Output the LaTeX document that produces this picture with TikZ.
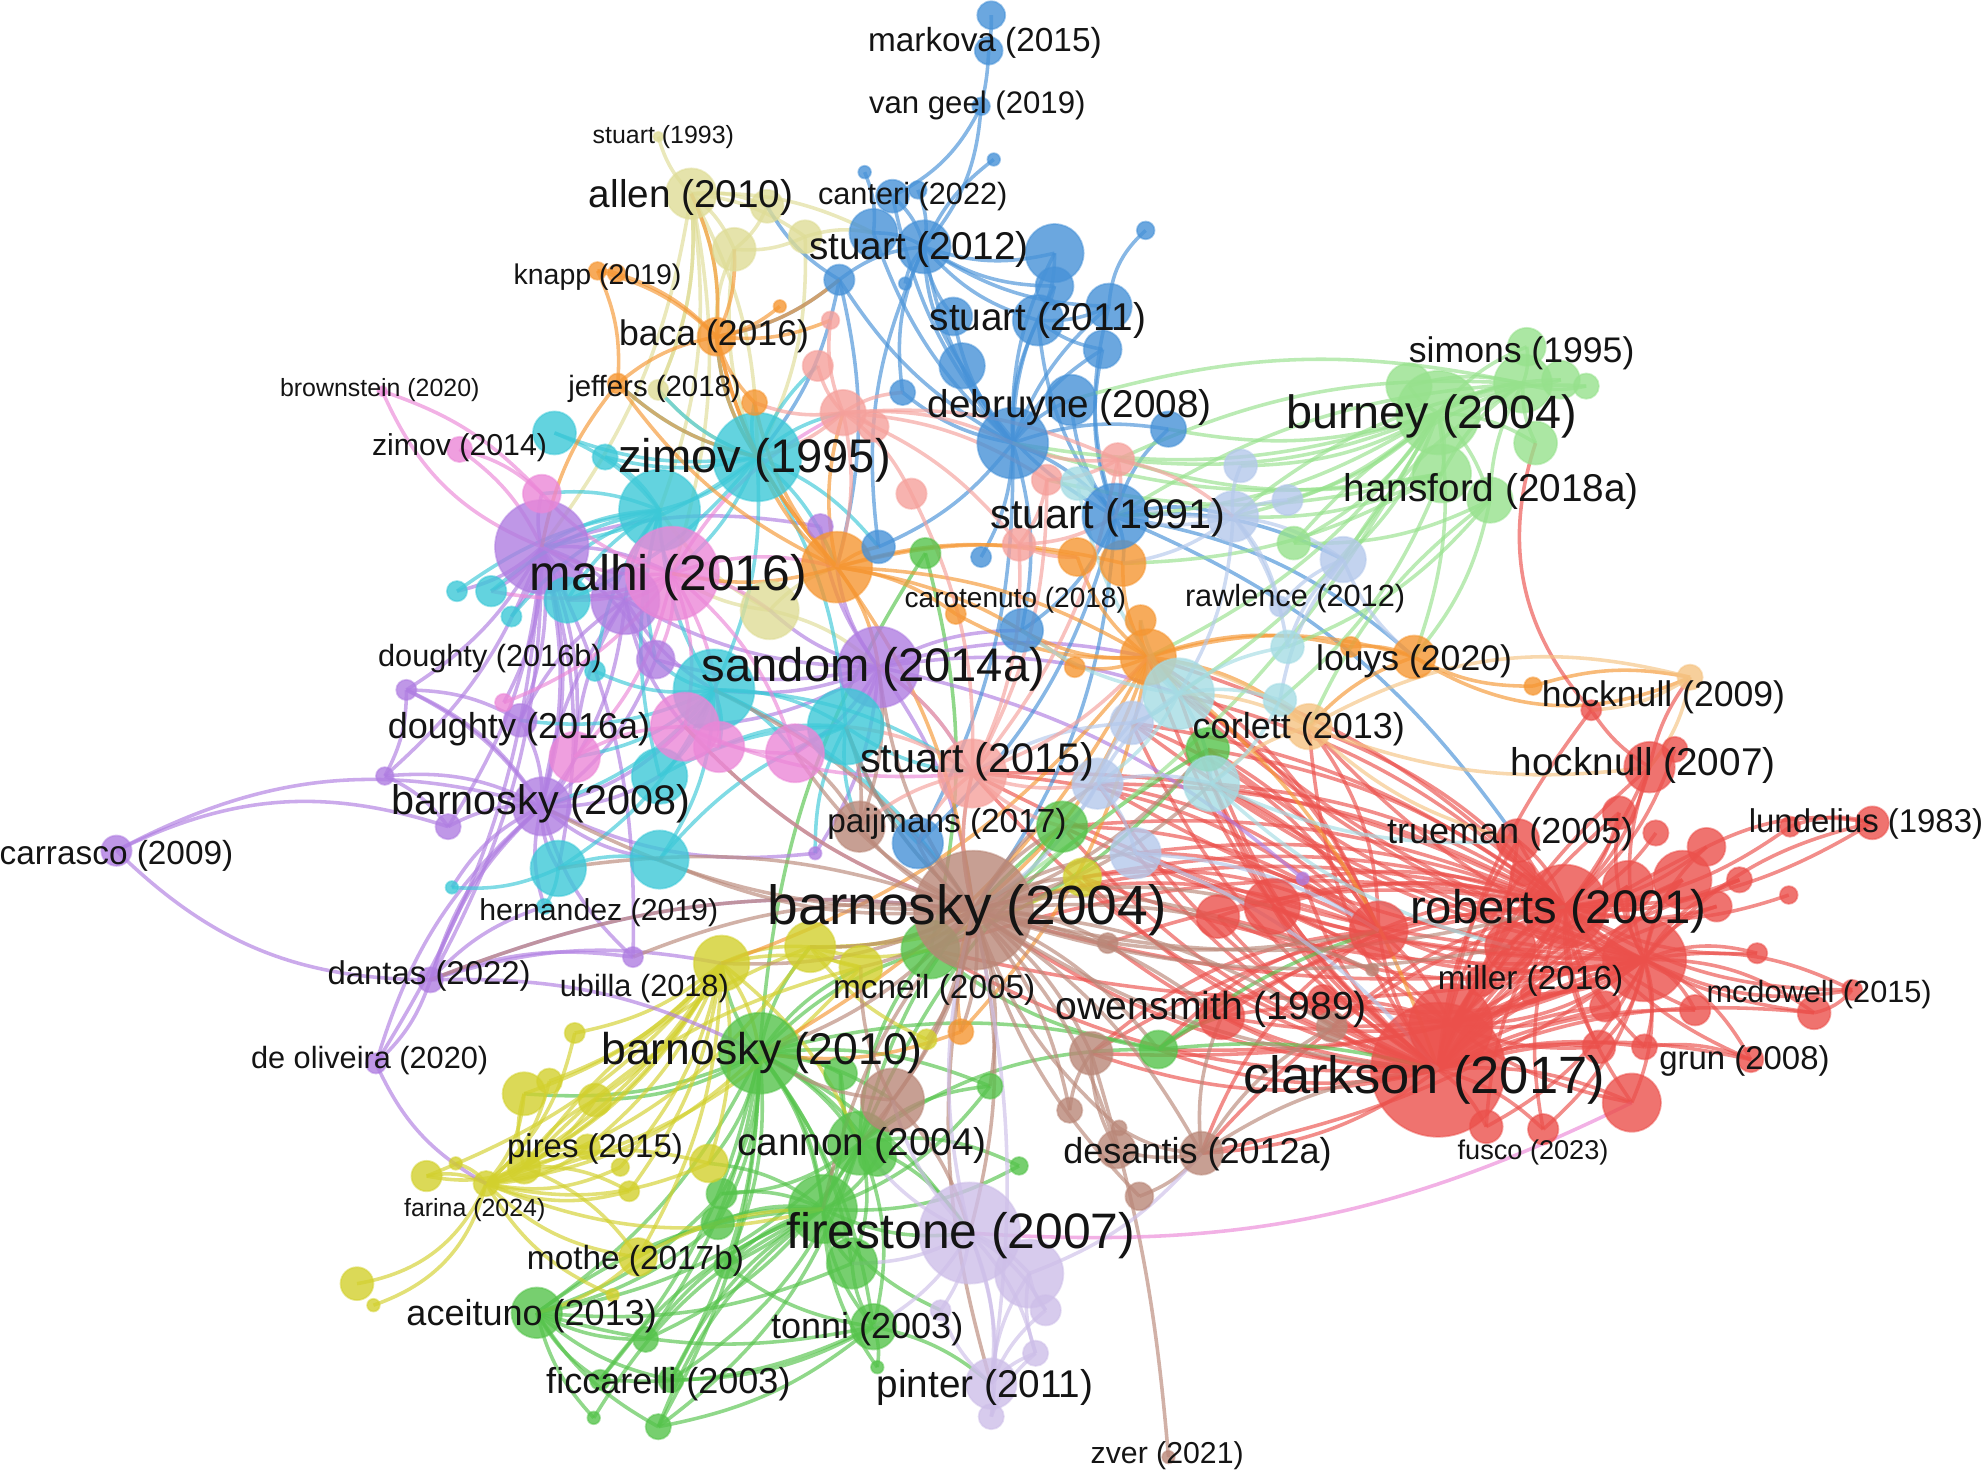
\documentclass[tikz,border=0pt]{standalone}
\usepackage{fontspec}
\setmainfont{Liberation Sans}
\pgfdeclarelayer{edges}
\pgfsetlayers{edges,main}
\definecolor{cR}{RGB}{235,80,75}
\definecolor{cG}{RGB}{85,195,75}
\definecolor{cB}{RGB}{70,145,215}
\definecolor{cY}{RGB}{210,208,45}
\definecolor{cK}{RGB}{222,220,150}
\definecolor{cP}{RGB}{175,125,225}
\definecolor{cC}{RGB}{60,200,215}
\definecolor{cPk}{RGB}{235,135,215}
\definecolor{cO}{RGB}{245,150,50}
\definecolor{cBr}{RGB}{185,135,120}
\definecolor{cLG}{RGB}{150,225,140}
\definecolor{cLB}{RGB}{180,200,235}
\definecolor{cS}{RGB}{245,160,155}
\definecolor{cL}{RGB}{205,190,232}
\definecolor{cLO}{RGB}{245,195,130}
\definecolor{cLC}{RGB}{165,220,228}
\definecolor{txt}{RGB}{20,20,20}
\tikzset{
  vn/.style={circle, inner sep=0pt, fill opacity=0.8, draw opacity=0.5, line width=0.4pt},
  lbl/.style={inner sep=0pt, text=txt, anchor=center},
  edg/.style={line width=0.8pt, draw opacity=0.65}
}
\newcommand\fan[4]{\foreach \tg in {#4}{\draw[edg, draw=#1] (#2.center) to[bend left=#3] (\tg.center);}}
\begin{document}
\begin{tikzpicture}[x=0.1mm, y=-0.1mm]
\useasboundingbox (0,0) rectangle (1568,1163);
% ---------- circles ----------
\foreach \n/\x/\y/\r/\c in {
R1/1136/845/53/cR, R2/1146/810/33/cR, R3/1236/716/33/cR, R4/1286/700/20/cR, R5/1329/695/23/cR,
R6/1299/758/33/cR, R7/1193/748/20/cR, R8/1089/735/23/cR, R9/1303/606/20/cR, R10/1323/592/10/cR,
R11/1279/642/13/cR, R12/1308/658/10/cR, R13/1348/669/15/cR, R14/1479/650/13/cR, R15/1414/653/8/cR,
R16/1374/695/10/cR, R17/1413/707/7/cR, R18/1356/716/12/cR, R19/1388/753/8/cR, R20/1199/664/17/cR,
R21/1203/690/10/cR, R22/1209/785/8/cR, R23/1268/795/12/cR, R24/1463/782/8/cR, R25/1433/800/13/cR,
R26/1339/798/12/cR, R27/1383/837/10/cR, R28/1299/827/10/cR, R29/1263/827/13/cR, R30/1289/871/23/cR,
R31/1219/892/12/cR, R32/1174/890/13/cR, R33/962/724/17/cR, R34/1005/716/22/cR, R35/965/803/18/cR,
R36/1257/561/8/cR, R37/1045/790/12/cR, R38/1170/775/12/cR,
G1/600/832/32/cG, G2/664/848/13/cG, G3/735/750/23/cG, G4/839/653/20/cG, G5/915/829/15/cG,
G6/782/858/10/cG, G7/805/921/7/cG, G8/679/903/25/cG, G9/650/955/27/cG, G10/673/998/20/cG,
G11/693/914/15/cG, G12/690/1048/18/cG, G13/693/1080/5/cG, G14/424/1037/20/cG, G15/510/1058/10/cG,
G16/474/1090/8/cG, G17/530/1090/10/cG, G18/520/1127/10/cG, G19/469/1120/5/cG, G20/570/943/12/cG,
G21/567/966/13/cG, G22/574/1000/10/cG, G25/954/592/17/cG, G27/731/437/12/cG,
Y1/570/761/22/cY, Y2/640/748/20/cY, Y3/680/764/17/cY, Y5/454/816/8/cY, Y6/414/864/17/cY,
Y7/434/854/10/cY, Y8/470/869/13/cY, Y9/414/922/13/cY, Y10/464/906/10/cY, Y11/490/922/7/cY,
Y12/560/919/15/cY, Y13/337/929/12/cY, Y14/360/919/5/cY, Y15/384/935/10/cY, Y16/497/941/8/cY,
Y17/282/1014/13/cY, Y18/295/1031/5/cY, Y19/504/993/15/cY, Y20/484/1023/5/cY, Y21/855/693/15/cY,
Y22/732/821/8/cY, Y23/608/482/23/cK,
K1/546/153/20/cK, K2/606/163/13/cK, K3/580/197/17/cK, K4/636/187/13/cK, K5/520/108/4/cK, K6/520/308/8/cK,
P1/428/432/37/cP, P2/494/474/27/cP, P3/694/527/32/cP, P4/518/521/15/cP, P5/411/569/13/cP,
P6/321/545/8/cP, P7/304/613/7/cP, P8/428/637/23/cP, P9/354/653/10/cP, P10/92/672/12/cP,
P11/340/774/10/cP, P12/297/840/8/cP, P13/500/756/8/cP, P14/644/674/5/cP, P15/648/416/10/cP, P16/1029/694/5/cP,
C1/598/361/35/cC, C2/438/342/17/cC, C3/478/361/10/cC, C4/521/403/32/cC, C5/448/474/18/cC,
C6/361/467/8/cC, C7/388/467/12/cC, C8/404/487/8/cC, C9/564/545/32/cC, C10/668/574/30/cC,
C11/521/613/22/cC, C12/441/686/22/cC, C13/521/679/23/cC, C14/430/716/6/cC, C15/357/701/5/cC, C16/470/530/8/cC,
Pk1/531/453/37/cPk, Pk2/428/390/15/cPk, Pk3/541/574/27/cPk, Pk4/568/590/20/cPk, Pk5/628/595/23/cPk,
Pk6/454/598/20/cPk, Pk7/363/355/10/cPk, Pk8/302/309/4/cPk, Pk9/398/555/7/cPk,
O1/661/448/28/cO, O2/566/266/15/cO, O3/616/242/5/cO, O4/596/318/10/cO, O5/472/214/7/cO,
O6/487/216/7/cO, O7/488/303/8/cO, O8/851/440/15/cO, O9/887/445/18/cO, O10/901/490/12/cO,
O11/907/519/22/cO, O12/849/527/8/cO, O13/1117/519/17/cO, O14/1067/511/8/cO, O15/1211/542/7/cO,
O16/759/815/10/cO, O17/755/485/8/cO,
Br1/769/719/47/cBr, Br2/679/653/20/cBr, Br3/875/745/8/cBr, Br4/862/832/17/cBr, Br5/1052/811/12/cBr,
Br6/705/869/25/cBr, Br7/845/877/10/cBr, Br8/882/908/15/cBr, Br9/949/911/17/cBr, Br10/900/945/11/cBr,
Br11/884/891/6/cBr, Br12/923/1151/5/cBr, Br13/1084/766/5/cBr,
LG1/1136/326/33/cLG, LG2/1113/305/18/cLG, LG3/1206/274/15/cLG, LG4/1203/303/23/cLG, LG5/1233/300/15/cLG,
LG6/1253/305/10/cLG, LG7/1213/350/17/cLG, LG8/1139/374/23/cLG, LG9/1177/395/18/cLG, LG10/1022/429/13/cLG,
LB1/980/368/13/cLB, LB2/974/408/20/cLB, LB3/1017/395/12/cLB, LB4/1061/442/18/cLB, LB5/1011/479/8/cLB,
LB6/894/571/17/cLB, LB7/867/619/20/cLB, LB8/897/674/20/cLB,
S1/656/253/7/cS, S2/646/289/12/cS, S3/666/326/18/cS, S4/690/337/12/cS, S5/883/363/13/cS,
S6/827/379/12/cS, S7/768/611/27/cS, S9/720/390/12/cS, S10/805/430/13/cS,
L1/766/974/40/cL, L2/813/1006/27/cL, L3/826/1035/12/cL, L4/818/1069/10/cL, L5/783/1093/20/cL,
L6/783/1119/10/cL, L7/743/1035/8/cL,
LO1/1034/574/18/cLO, LO2/1335/535/10/cLO,
LC1/851/382/13/cLC, LC2/931/548/28/cLC, LC3/1017/511/13/cLC, LC4/1011/553/13/cLC, LC5/957/619/22/cLC,
B1/783/12/11/cB, B2/781/40/11/cB, B3/775/84/7/cB, B4/683/136/5/cB, B5/785/126/5/cB,
B6/705/155/13/cB, B7/725/150/7/cB, B8/690/184/19/cB, B9/730/195/21/cB, B10/663/221/12/cB,
B11/715/224/5/cB, B12/833/200/23/cB, B13/833/226/15/cB, B14/905/182/7/cB, B15/753/250/15/cB,
B16/820/253/20/cB, B17/876/242/18/cB, B18/871/276/15/cB, B19/760/289/18/cB, B20/713/310/10/cB,
B21/846/316/20/cB, B22/800/350/28/cB, B23/923/339/14/cB, B24/881/408/26/cB, B25/694/432/13/cB,
B26/807/498/17/cB, B27/725/666/20/cB, B28/775/440/8/cB}
  \node[vn, minimum size=0.2mm*\r, fill=\c, draw=\c] (\n) at (\x,\y) {};
% ---------- connectors ----------
\begin{pgfonlayer}{edges}
% red
\fan{cR}{R1}{14}{R2,R3,R4,R5,R6,R7,R8,R9,R11,R13,R16,R18,R20,R21,R22,R23,R25,R26,R27,R28,R29,R30,R31,R32,R33,R34,R35,R36,R37,R38}
\fan{cR}{R3}{-16}{R2,R4,R5,R6,R7,R8,R9,R10,R11,R12,R13,R14,R15,R16,R17,R18,R19,R20,R21,R22,R23,R24,R25,R26,R27,R28,R29,R30,R31,R32,R33,R34,R35,R38}
\fan{cR}{R6}{18}{R2,R4,R5,R7,R8,R9,R11,R13,R14,R16,R18,R19,R20,R22,R23,R24,R25,R26,R27,R28,R29,R30,R31,R32,R33,R34,R35,R37}
\fan{cR}{R2}{-12}{R4,R5,R7,R8,R20,R23,R29,R30,R33,R34,R35,R37,R38,R9}
\fan{cR}{R1}{16}{Br1,G4,LB8,Y21,LB7,LC5,G25,LC2,O11,S7,Br4,G5,Br9,LO1,LB6,Br5,G3,Br3,P16}
\fan{cR}{R3}{-14}{Br1,G4,LB8,Y21,LB7,LC5,G25,LC2,O11,S7,Br4,G5,Br9,LO1,LB6,Br5,G3,Br3,P16}
\fan{cR}{R6}{12}{Br1,G4,LB8,Y21,LB7,LC5,G25,LC2,O11,S7,Br4,G5,Br9,LO1,LB6,Br5,G3}
\fan{cR}{R8}{-18}{Br1,G4,LB8,Y21,LB7,LC5,G25,LC2,O11,S7,Br4,G5,Br9,LO1,LB6}
\fan{cR}{R9}{12}{R36,LO2}
\fan{cR}{R14}{-18}{R15,R13}
\fan{cR}{R24}{18}{R25,R6}
\fan{cR}{R27}{-14}{R28}
% green
\fan{cG}{G1}{14}{G2,G3,G6,G8,G9,G10,G11,G12,G14,G15,G16,G17,G18,G20,G21,G22,G27,Y1,Y2,Y3,Y6,Y8,Y12,Br6,L1,G5}
\fan{cG}{G9}{-16}{G1,G2,G6,G7,G10,G11,G12,G13,G14,G15,G16,G17,G18,G19,G20,G21,G22,L1,L7,Y12,Y19}
\fan{cG}{G8}{18}{G2,G3,G5,G6,G7,G10,G12,G14,G15,G17,G18,G20,G22,G25,G4,L1}
\fan{cG}{G14}{-14}{G15,G16,G17,G18,G19,G20,G21,G12,G10}
\fan{cG}{G12}{14}{G13,G16,G17,G18,G10,G22,L5}
\fan{cG}{G3}{-14}{G4,G5,G25,Br1,G27}
\fan{cG}{G5}{10}{R35,R1,R8}
% yellow
\fan{cY}{Y1}{14}{Y2,Y3,Y5,Y6,Y7,Y8,Y9,Y10,Y11,Y12,Y13,Y15,Y16,Y19,G1,G8}
\fan{cY}{Y15}{-18}{Y5,Y6,Y7,Y8,Y9,Y10,Y11,Y12,Y13,Y14,Y16,Y19,Y20,Y1,Y2,Y3,G1,G9}
\fan{cY}{Y9}{16}{Y6,Y8,Y10,Y12,Y13,Y16,Y19,Y2,Y3}
\fan{cY}{Y2}{-14}{Br1,Y21,Y22,Y3,G3}
\fan{cY}{Y15}{28}{Y17,Y18}
\fan{cY}{Y19}{14}{G14,G9}
\fan{cK}{Y23}{14}{Pk1,C4,O1,P3}
% khaki
\fan{cK}{K1}{14}{K2,K3,K4,K5,K6,C1,O2,B8,Pk1,P1,C4}
\fan{cK}{K3}{-14}{K4,K2,C1,O2}
\fan{cK}{K4}{14}{B8,C1}
\fan{cK}{K6}{-14}{C1,K1}
% purple
\fan{cP}{P1}{14}{P2,P4,P5,P6,P7,P8,P9,P11,P12,P13,P15,C5,C6,C7,C8,Pk1,Pk2,Pk6,C12,Pk9}
\fan{cP}{P8}{-16}{P1,P2,P4,P5,P6,P7,P9,P11,P12,P13,P14,C11,C12,C13,Pk6,Pk3,C14,C15}
\fan{cP}{P3}{14}{P2,P4,P14,P15,P16,Br1,S7,C9,C10,Pk5,Pk3,O1,Y23,B26,O11,LC2}
\fan{cP}{P2}{-14}{P4,P5,P8,C5,C9,Pk3,Pk6}
\fan{cP}{P10}{22}{P8,P9}
\fan{cP}{P10}{-22}{P11}
\fan{cP}{P11}{14}{P12,P13,Y1,C14,G1,P8,Br1}
\fan{cP}{P12}{-18}{Y15}
\fan{cP}{P6}{14}{P5,P7,P8}
\fan{cP}{P7}{14}{P9}
% cyan
\fan{cC}{C1}{14}{C2,C3,C4,C5,C9,C10,O1,O2,O7,S3,S2,Pk1,P1,K6,B25,O4}
\fan{cC}{C4}{-14}{C2,C3,C5,C6,C7,C8,C9,C11,Pk1,Pk2,P1,P2,P4,C16}
\fan{cC}{C9}{16}{C10,C11,C12,C13,Pk3,Pk4,Pk5,Pk6,P4,P5,P8,Br1,S7,C16}
\fan{cC}{C10}{-14}{C11,C13,Pk4,Pk5,S7,Br1,Br2,B27,P14}
\fan{cC}{C12}{14}{C13,C15,C14}
% pink
\fan{cPk}{Pk1}{16}{Pk2,Pk3,Pk4,Pk5,Pk6,Pk9,P1,P2,P4,C5,C7,O1,Y23,S3}
\fan{cPk}{Pk3}{-14}{Pk4,Pk5,Pk6,Br1,S7}
\fan{cPk}{Pk8}{-22}{P1}
\fan{cPk}{Pk8}{14}{Pk2}
\fan{cPk}{Pk7}{14}{P1,Pk2}
% blue
\fan{cB}{B1}{5}{B2}
\fan{cB}{B2}{5}{B3}
\fan{cB}{B3}{18}{B9,B6}
\fan{cB}{B5}{-14}{B9}
\fan{cB}{B4}{14}{B8}
\fan{cB}{B14}{-22}{B17}
\fan{cB}{B22}{14}{B8,B9,B10,B12,B13,B15,B16,B17,B18,B19,B20,B21,B23,B24,B25,B26,B27,B6,B28}
\fan{cB}{B9}{-16}{B6,B7,B8,B10,B11,B12,B13,B15,B16,B17,B19,B20,B25}
\fan{cB}{B24}{16}{B21,B23,B19,B17,B18,B16,B26,B27,LB2,O9,R20,Br1,LB4,O13}
\fan{cB}{B16}{-14}{B12,B13,B17,B18}
\fan{cB}{B10}{14}{O1,C1,O2,K2}
% orange
\fan{cO}{O1}{14}{O2,O4,O7,O8,O9,O11,O12,O17,C1,Pk1,P3,B25,S3,Br1}
\fan{cO}{O2}{-14}{O3,O4,O5,O6,O7,O1,K1,K3,C1,S1,B10}
\fan{cO}{O11}{16}{O8,O9,O10,O12,O13,O14,O16,O17,LC2,LO1,B26,Br1,G1,Y1,R1}
\fan{cO}{O13}{-14}{O14,LO1,O15}
\fan{cO}{O13}{-28}{LO2}
\fan{cO}{O15}{14}{LO2}
\fan{cO}{O5}{14}{O6,O7}
\fan{cO}{O7}{-14}{C1,P1}
\fan{cO}{O16}{14}{Br1,G1}
% brown
\fan{cBr}{Br1}{14}{Br2,Br3,Br4,Br5,Br6,Br7,Br8,Br9,Br13,G1,G3,G4,G5,G6,G8,Y1,Y2,Y3,Y21,Y22,P8,P3,C10,C13,S7,LB7,LB8,B27,R33,R34,R35,L1,O16,Pk5,Pk3}
\fan{cBr}{Br1}{-14}{R8,R1,R3,R7,C9,P11,P13,C12,G9,L5,Br10,Br11,G25,LC5}
\fan{cBr}{Br9}{14}{Br8,Br10,Br11,R1,R35,Br5}
\fan{cBr}{Br4}{-14}{Br7,Br8}
\fan{cBr}{Br12}{-6}{Br4}
\fan{cBr}{Br6}{14}{G1,G8,Y3,L1}
\fan{cBr}{Br2}{-14}{P3,C10,Pk5}
% light green
\fan{cLG}{LG1}{14}{LG2,LG3,LG4,LG5,LG6,LG7,LG8,LG9,LG10,B22,B24,LB2,LB1,LB4,O11,LC2,S5,B23,Br1,O13,LB3}
\fan{cLG}{LG4}{-14}{LG2,LG3,LG5,LG6,LG7,LG8,LG9,LG10,B24,S5,LB4,B21,LB2}
\fan{cLG}{LG9}{14}{O13,LG10,LC3}
\fan{cLG}{LG9}{-14}{LO1}
\fan{cR}{LG7}{-30}{R36}
\fan{cLG}{LG8}{14}{B22,S5,S6,LB2,O9,LC4}
% light blue
\fan{cLB}{LB2}{14}{LB1,LB3,LB4,LB5,B24,LC1,LC3,O9,LC2}
\fan{cLB}{LB4}{-14}{LB5,LC3,LC4,O13}
\fan{cLB}{LB7}{14}{LB6,LB8,LC5,LC2,Br1,G4}
\fan{cLB}{LB6}{-14}{LC2,O11,S7}
\fan{cLB}{LB8}{14}{R8,R1}
% salmon
\fan{cS}{S3}{14}{S1,S2,S4,S9,S10,S6,S5,C1,O1,B20,B22,O4}
\fan{cS}{S7}{-14}{S9,S10,S6,S5,C10,P3,Br1,B27,Br2,G4,LB7,O11}
\fan{cS}{S5}{14}{S6,B22,B24,LB2}
\fan{cS}{S10}{-14}{S6,O8,B24}
% lavender
\fan{cL}{L1}{14}{L2,L3,L4,L5,L6,L7,G10,G12,Br1,Br6,G8}
\fan{cPk}{L1}{-15}{R30}
\fan{cL}{L5}{14}{L2,L3,L4,L6,L7}
\fan{cL}{L5}{-10}{Br1}
\fan{cL}{L2}{-14}{L3,L4,Br9}
\fan{cL}{L6}{14}{L4}
% light orange
\fan{cLO}{LO1}{22}{LO2}
\fan{cLO}{LO1}{-14}{LC2,LC4,LC5,R9,R20,O11}
\fan{cLO}{LO2}{14}{R36,R9}
% light cyan
\fan{cLC}{LC2}{14}{LC1,LC3,LC4,LC5,LB6,LB7,O11,O10,B26}
\fan{cLC}{LC5}{-14}{LC4,R20,R7}
\end{pgfonlayer}
% ---------- labels ----------
\foreach \n/\x/\y/\s/\tx in {
T1/778/34/7.5/markova (2015), T2/772/83/7.0/van geel (2019), T3/524/108/5.6/stuart (1993),
T4/546/156/8.7/allen (2010), T5/721/155/6.9/canteri (2022), T6/726/197/8.7/stuart (2012),
T7/472/219/6.4/knapp (2019), T8/820/253/8.7/stuart (2011), T9/564/266/8.0/baca (2016),
T10/1202/279/8.0/simons (1995), T11/300/308/5.6/brownstein (2020), T12/517/307/6.6/jeffers (2018),
T13/845/322/8.7/debruyne (2008), T14/1131/329/10.5/burney (2004), T15/363/354/6.8/zimov (2014),
T16/596/364/10.6/zimov (1995), T17/1178/388/8.7/hansford (2018a), T18/875/409/9.3/stuart (1991),
T19/528/456/11.2/malhi (2016), T20/802/474/6.3/carotenuto (2018), T21/1023/473/6.9/rawlence (2012),
T22/387/520/6.9/doughty (2016b), T23/690/529/10.6/sandom (2014a), T24/1117/522/8.0/louys (2020),
T25/1314/551/8.0/hocknull (2009), T26/410/576/8.1/doughty (2016a), T27/1026/576/8.1/corlett (2013),
T28/772/602/9.3/stuart (2015), T29/1298/605/8.7/hocknull (2007), T30/427/635/9.3/barnosky (2008),
T31/748/651/7.5/paijmans (2017), T32/1474/651/7.4/lundelius (1983), T33/1193/659/8.1/trueman (2005),
T34/92/676/7.5/carrasco (2009), T35/764/719/12.4/barnosky (2004), T36/1231/720/10.6/roberts (2001),
T37/473/721/6.8/hernandez (2019), T38/339/771/7.4/dantas (2022), T39/509/781/6.9/ubilla (2018),
T40/738/782/7.5/mcneil (2005), T41/1209/775/7.5/miller (2016), T42/1437/786/6.9/mcdowell (2015),
T43/957/797/8.8/owensmith (1989), T44/292/838/6.9/de oliveira (2020), T45/602/832/10.0/barnosky (2010),
T46/1378/838/7.4/grun (2008), T47/1125/853/11.8/clarkson (2017), T48/470/908/7.4/pires (2015),
T49/681/905/8.7/cannon (2004), T50/946/912/8.1/desantis (2012a), T51/1211/910/6.1/fusco (2023),
T52/375/956/5.6/farina (2024), T53/759/976/11.2/firestone (2007), T54/502/996/7.5/mothe (2017b),
T55/420/1040/8.1/aceituno (2013), T56/685/1050/8.1/tonni (2003), T57/528/1093/8.1/ficcarelli (2003),
T58/778/1096/8.7/pinter (2011), T59/922/1150/6.8/zver (2021)}
  \node[lbl, font=\fontsize{\s}{\s}\selectfont] (\n) at (\x,\y) {\tx};
\end{tikzpicture}
\end{document}
